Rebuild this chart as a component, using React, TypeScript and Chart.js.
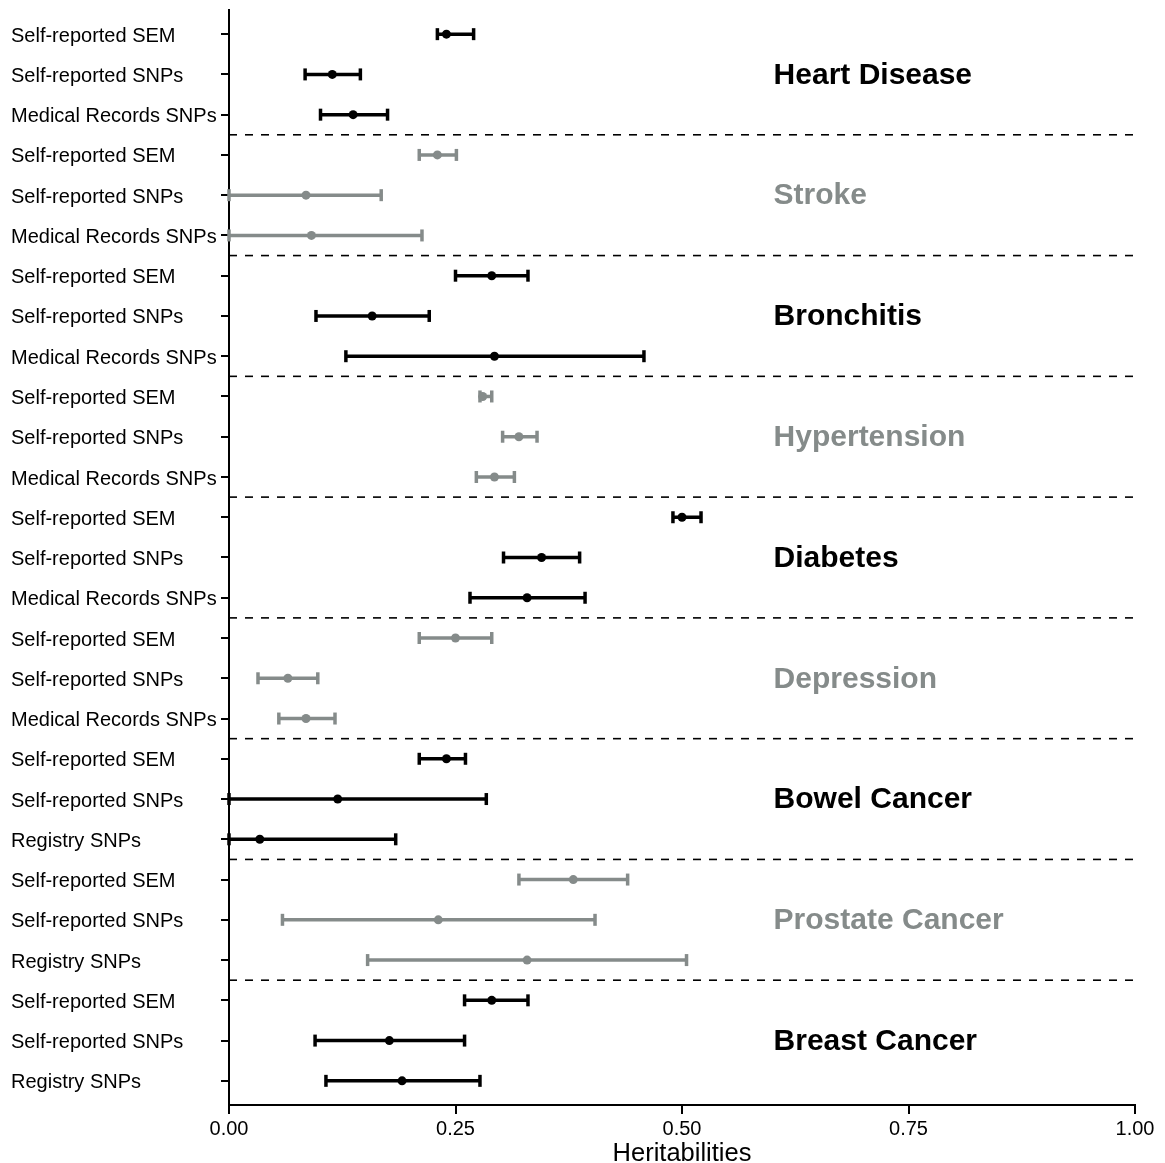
import React, { useEffect, useRef } from "react";
import { Chart, registerables } from "chart.js";

Chart.register(...registerables);

const diseases = [
  "Heart Disease",
  "Stroke",
  "Bronchitis",
  "Hypertension",
  "Diabetes",
  "Depression",
  "Bowel Cancer",
  "Prostate Cancer",
  "Breast Cancer",
];

const rowLabels = [
  "Self-reported SEM", "Self-reported SNPs", "Medical Records SNPs",
  "Self-reported SEM", "Self-reported SNPs", "Medical Records SNPs",
  "Self-reported SEM", "Self-reported SNPs", "Medical Records SNPs",
  "Self-reported SEM", "Self-reported SNPs", "Medical Records SNPs",
  "Self-reported SEM", "Self-reported SNPs", "Medical Records SNPs",
  "Self-reported SEM", "Self-reported SNPs", "Medical Records SNPs",
  "Self-reported SEM", "Self-reported SNPs", "Registry SNPs",
  "Self-reported SEM", "Self-reported SNPs", "Registry SNPs",
  "Self-reported SEM", "Self-reported SNPs", "Registry SNPs",
];

const estimates = [
  0.240, 0.114, 0.137,
  0.230, 0.085, 0.091,
  0.290, 0.158, 0.293,
  0.280, 0.320, 0.293,
  0.500, 0.345, 0.329,
  0.250, 0.065, 0.085,
  0.240, 0.120, 0.034,
  0.380, 0.231, 0.329,
  0.290, 0.177, 0.191,
];

const lowerCI = [
  0.230, 0.084, 0.101,
  0.210, 0.000, 0.000,
  0.250, 0.096, 0.129,
  0.277, 0.302, 0.273,
  0.490, 0.303, 0.266,
  0.210, 0.032, 0.055,
  0.210, 0.000, 0.000,
  0.320, 0.059, 0.153,
  0.260, 0.095, 0.107,
];

const upperCI = [
  0.270, 0.145, 0.175,
  0.251, 0.168, 0.213,
  0.330, 0.221, 0.458,
  0.290, 0.340, 0.315,
  0.521, 0.387, 0.393,
  0.290, 0.098, 0.117,
  0.261, 0.284, 0.184,
  0.440, 0.404, 0.505,
  0.330, 0.260, 0.277,
];

const xTickValues = [0, 0.25, 0.5, 0.75, 1];
const xTickLabels = ["0.00", "0.25", "0.50", "0.75", "1.00"];

const BLACK = "#000000";
const GREY = "#858b8a";
const FONT = "'Liberation Sans', Arial, sans-serif";
const TITLE_X = 0.6;

const colorForRow = (i: number) => (Math.floor(i / 3) % 2 === 0 ? BLACK : GREY);

const groupTitlePlugin = {
  id: "groupTitles",
  afterDatasetsDraw(chart: any) {
    const { ctx, scales } = chart;
    const xs = scales.x;
    const ys = scales.y;
    ctx.save();
    ctx.font = `bold 30px ${FONT}`;
    ctx.textAlign = "left";
    ctx.textBaseline = "middle";
    diseases.forEach((name, g) => {
      ctx.fillStyle = g % 2 === 0 ? BLACK : GREY;
      const x = xs.getPixelForValue(TITLE_X);
      const y = ys.getPixelForValue(g * 3 + 2);
      ctx.fillText(name, x + 1, y + 1);
    });
    ctx.restore();
  },
};

export default function App() {
  const ref = useRef<HTMLCanvasElement | null>(null);

  useEffect(() => {
    if (!ref.current) return;
    const n = rowLabels.length;

    const pointDataset = {
      label: "estimates",
      data: estimates.map((v, i) => ({ x: v, y: i + 1 })),
      showLine: false,
      pointRadius: 4.5,
      pointBorderWidth: 0,
      pointBackgroundColor: estimates.map((_, i) => colorForRow(i)),
      clip: false as const,
    };

    const barDatasets = estimates.map((_, i) => ({
      label: `ci${i}`,
      data: [
        { x: lowerCI[i], y: i + 1 },
        { x: upperCI[i], y: i + 1 },
      ],
      showLine: true,
      borderColor: colorForRow(i),
      borderWidth: 3.5,
      pointStyle: "line" as const,
      pointRotation: 90,
      pointRadius: 6,
      pointBorderWidth: 3.5,
      pointBorderColor: colorForRow(i),
      clip: false as const,
    }));

    const dividerDatasets = diseases.slice(1).map((_, g) => ({
      label: `div${g}`,
      data: [
        { x: 0, y: (g + 1) * 3 + 0.5 },
        { x: 1, y: (g + 1) * 3 + 0.5 },
      ],
      showLine: true,
      borderColor: BLACK,
      borderWidth: 1.6,
      borderDash: [8, 8],
      pointRadius: 0,
      clip: false as const,
    }));

    const chart = new Chart(ref.current, {
      type: "scatter",
      data: {
        datasets: [pointDataset, ...barDatasets, ...dividerDatasets] as any,
      },
      plugins: [groupTitlePlugin],
      options: {
        animation: false,
        responsive: false,
        events: [],
        layout: { padding: { left: 11, top: 10, right: 30, bottom: 0 } },
        plugins: {
          legend: { display: false },
          tooltip: { enabled: false },
        },
        scales: {
          x: {
            type: "linear",
            min: 0,
            max: 1,
            afterBuildTicks: (scale: any) => {
              scale.ticks = xTickValues.map((v) => ({ value: v }));
            },
            afterFit: (scale: any) => {
              scale.height = 58;
              scale.paddingLeft = 0;
              scale.paddingRight = 0;
            },
            ticks: {
              color: BLACK,
              font: { family: FONT, size: 20 },
              padding: 3,
              autoSkip: false,
              maxRotation: 0,
              callback: (v: any, idx: number) => xTickLabels[idx],
            },
            grid: {
              display: true,
              drawOnChartArea: false,
              drawTicks: true,
              tickLength: 9,
              color: BLACK,
              lineWidth: 2,
            },
            border: { display: true, color: BLACK, width: 2 },
            title: {
              display: true,
              text: "Heritabilities",
              color: BLACK,
              font: { family: FONT, size: 25.5, lineHeight: 1 },
              padding: { top: 0, bottom: -4 },
            },
          },
          y: {
            type: "linear",
            reverse: true,
            min: 0.4,
            max: n + 0.6,
            afterBuildTicks: (scale: any) => {
              scale.ticks = rowLabels.map((_, i) => ({ value: i + 1 }));
            },
            afterFit: (scale: any) => {
              scale.width = 218;
              scale.paddingTop = 0;
              scale.paddingBottom = 0;
            },
            ticks: {
              color: BLACK,
              font: { family: FONT, size: 20 },
              crossAlign: "far",
              autoSkip: false,
              padding: 4,
              labelOffset: 2,
              callback: (v: any) => rowLabels[Math.round(Number(v)) - 1] ?? "",
            },
            grid: {
              display: true,
              drawOnChartArea: false,
              drawTicks: true,
              tickLength: 8,
              color: BLACK,
              lineWidth: 2,
            },
            border: { display: true, color: BLACK, width: 2 },
          },
        },
      },
    });

    return () => chart.destroy();
  }, []);

  return (
    <div style={{ position: "fixed", left: 0, top: 0, width: 1165, height: 1163, background: "#fff" }}>
      <canvas ref={ref} width={1165} height={1163} style={{ display: "block" }} />
    </div>
  );
}
